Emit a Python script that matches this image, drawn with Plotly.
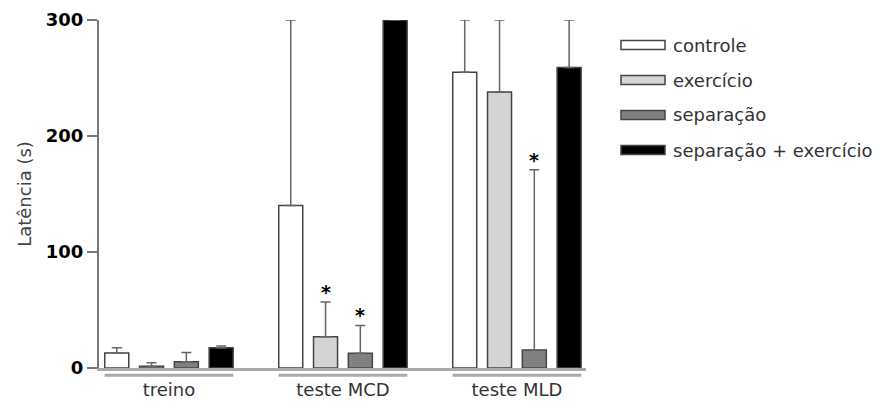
import plotly.graph_objects as go

groups = ["treino", "teste MCD", "teste MLD"]
series = ["controle", "exercício", "separação", "separação + exercício"]
means = {
    "controle": [13, 140, 255],
    "exercício": [1.5, 27, 238],
    "separação": [5.4, 12.7, 15.5],
    "separação + exercício": [17.5, 300, 259],
}
err_up = {
    "controle": [4.5, 160, 45],
    "exercício": [3, 30, 62],
    "separação": [8, 24, 155.5],
    "separação + exercício": [1.5, 0, 41],
}
stars = [("exercício", 1), ("separação", 1), ("separação", 2)]
y_ticks = [0, 100, 200, 300]

fills = ["#ffffff", "#d4d4d4", "#808080", "#000000"]
FONT = "DejaVu Sans"
pitch = 0.2
offsets = [(i - 1.5) * pitch for i in range(len(series))]

fig = go.Figure()
for i, s in enumerate(series):
    xs = [g + offsets[i] for g in range(len(groups))]
    fig.add_trace(go.Bar(
        x=xs, y=means[s], name=s, width=0.138,
        marker=dict(color=fills[i], line=dict(color="#444444", width=1.5)),
        error_y=dict(type="data", symmetric=False, array=err_up[s],
                     arrayminus=[0] * len(groups), color="#666666",
                     thickness=1.5, width=5),
        cliponaxis=False, showlegend=False,
    ))

for s, g in stars:
    i = series.index(s)
    fig.add_annotation(x=g + offsets[i], y=means[s][g] + err_up[s][g],
                       text="<b>*</b>", showarrow=False, yanchor="bottom", yshift=-3,
                       font=dict(family=FONT, size=19, color="#000000"))

# group underlines
for g in range(len(groups)):
    fig.add_shape(type="line", xref="x", yref="paper", x0=g - 0.37, x1=g + 0.37,
                  y0=-0.021, y1=-0.021, line=dict(color="#aaaaaa", width=3))

# manual legend
ax_l, ax_r, ax_t, ax_b = 99, 586, 20, 368
def px(x):
    return (x - ax_l) / (ax_r - ax_l)
def py(y):
    return (ax_b - y) / (ax_b - ax_t)
for i, s in enumerate(series):
    yc = 45 + 35 * i
    fig.add_shape(type="rect", xref="paper", yref="paper",
                  x0=px(621), x1=px(665), y0=py(yc - 4.5), y1=py(yc + 4.5),
                  fillcolor=fills[i], line=dict(color="#444444", width=1.5))
    fig.add_annotation(xref="paper", yref="paper", x=px(671), y=py(yc),
                       text=s, showarrow=False, xanchor="left", yanchor="middle",
                       font=dict(family=FONT, size=18, color="#333333"))

fig.update_layout(
    width=879, height=403,
    margin=dict(l=ax_l, r=879 - ax_r, t=ax_t, b=403 - ax_b),
    paper_bgcolor="white", plot_bgcolor="white",
    barmode="overlay",
    font=dict(family=FONT, size=18, color="#333333"),
)
fig.update_xaxes(range=[-0.402, 2.397], tickvals=list(range(len(groups))),
                 ticktext=groups, ticks="", showgrid=False, zeroline=False,
                 showline=True, linecolor="#aaaaaa", linewidth=2.5,
                 ticklabelstandoff=4, automargin=False,
                 tickfont=dict(family=FONT, size=18, color="#333333"))
fig.update_yaxes(range=[0, 300], tickvals=y_ticks, ticks="outside", ticklen=10,
                 tickwidth=2, tickcolor="#777777", showgrid=False, zeroline=False,
                 showline=True, linecolor="#777777", linewidth=2, automargin=False,
                 tickfont=dict(family=FONT, size=18, color="#000000", weight="bold"),
                 title=dict(text="Latência (s)", standoff=10,
                            font=dict(family=FONT, size=18, color="#444444")))

fig.write_html("out.html", config={"displayModeBar": False})

# remove the default page margin so the figure sits at the window's top-left
with open("out.html", encoding="utf-8") as f:
    html = f.read()
html = html.replace("<head>", "<head><style>html,body{margin:0;padding:0;overflow:hidden;}</style>", 1)
with open("out.html", "w", encoding="utf-8") as f:
    f.write(html)
